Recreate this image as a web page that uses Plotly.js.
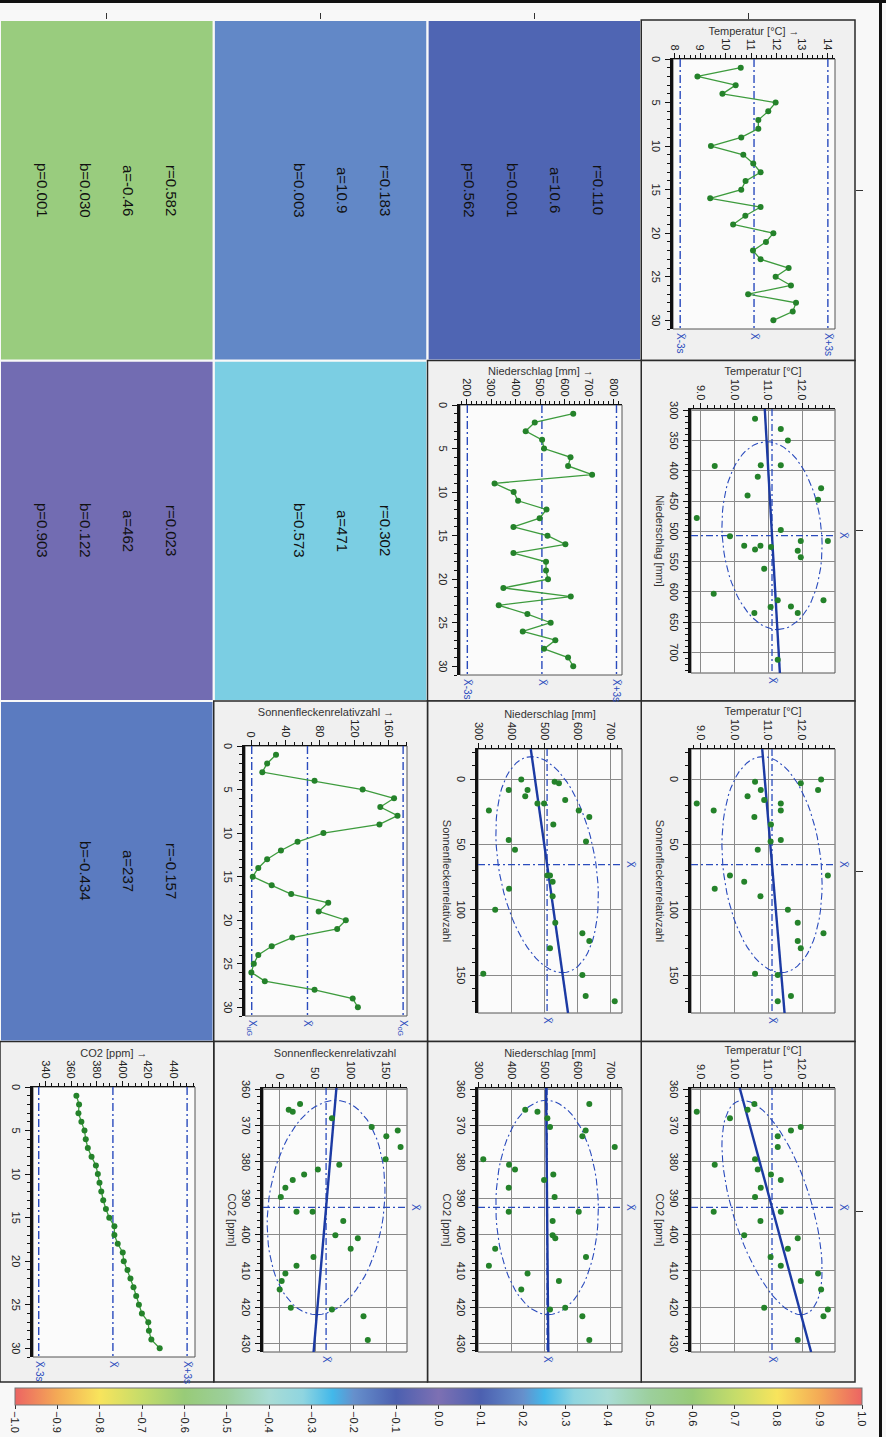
<!DOCTYPE html>
<html>
<head>
<meta charset="utf-8">
<script src="https://cdn.plot.ly/plotly-3.0.1.min.js"></script>
<style>
html, body { margin: 0; padding: 0; width: 886px; height: 1437px; overflow: hidden; background: #f8f8f8; }
#chart { position: absolute; left: 0; top: 0; width: 1437px; height: 886px;
         transform-origin: 0 0; transform: translate(886px, 0) rotate(90deg); }
</style>
</head>
<body>
<div id="chart"></div>
<script>
// yearly series, years 1..30
const years = [1,2,3,4,5,6,7,8,9,10,11,12,13,14,15,16,17,18,19,20,21,22,23,24,25,26,27,28,29,30];
const temp = [10.59, 8.89, 10.39, 9.87, 11.96, 11.67, 11.28, 11.28, 10.61, 9.42, 10.69, 11.08, 11.37, 10.78, 10.61,
              9.39, 11.37, 10.77, 10.29, 11.87, 11.58, 11.07, 11.37, 12.47, 11.96, 12.56, 10.88, 12.76, 12.63, 11.87];
const precip = [635, 478, 441, 508, 516, 624, 614, 712, 314, 392, 410, 526, 498, 391, 530,
                603, 391, 524, 524, 532, 350, 625, 331, 448, 543, 429, 562, 516, 614, 635];
const sun = [29, 18.7, 13.1, 73.7, 129.5, 166, 150, 170, 149, 84, 54, 34.7, 18.7, 8.4, 2,
             24, 46.6, 89.6, 78.5, 110, 100, 47.8, 24, 8.4, 3.2, 0.4, 16, 73.7, 118, 124];
const co2 = [364.1, 366.2, 365.7, 368, 370.4, 371.4, 373, 375.9, 379.3, 380.8, 382.1, 383.5, 385, 387.1, 389.7,
             393.7, 393.7, 396.3, 400.2, 401, 403.9, 406.2, 408.6, 410.7, 412.8, 415.1, 420.1, 420.6, 422.5, 429];

const varTitles = ['Temperatur [°C]', 'Niederschlag [mm]', 'Sonnenfleckenrelativzahl', 'CO2 [ppm]'];

// statistics printed in the lower cells (row, column of the matrix)
const statRow = [1, 2, 3, 2, 3, 3];
const statCol = [0, 0, 0, 1, 1, 2];
const statR = [0.110, 0.183, 0.582, 0.302, 0.023, -0.157];
const statA = [10.6, 10.9, -0.46, 471, 462, 237];
const statB = [0.001, 0.003, 0.030, 0.573, 0.122, -0.434];
const statP = [0.562, null, 0.001, null, 0.903, null];

// lower / upper limit of the sunspot series
const sunLimits = [0.8, 176.5];

// colours of the scale by |r|
const scaleAbs = [0, 0.1, 0.2, 0.25, 0.32, 0.4, 0.5, 0.6, 0.7, 0.8, 0.9, 1.0];
const scaleCol = ['#7d70b3', '#4c60b0', '#6690cc', '#42b8ea', '#8fd5e0', '#a9dcd5',
                  '#9ccf9c', '#98cb78', '#c5dc6a', '#f8e45c', '#f4aa56', '#ec6463'];

// ---- geometry (unrotated figure, pixels) ----
const W = 1437, H = 886;
const gx0 = 20, gx1 = 1382, gy0 = 31, gy1 = 886;
const colW = (gx1 - gx0) / 4, rowH = (gy1 - gy0) / 4;
const tsLeft = [59, 405, 746, 1087], tsW = 270, tsH = 162;
const scLeft = [0, 409, 749, 1088], scW = 264, scH = 144;
const plotTop = [51, 264, 479, 691];

const tsX = [0, 31];
const tsRange = [[7.93, 14.29], [173, 834], [-7, 181], [330.3, 456.5]];
const tsDtick = [1, 100, 40, 20], tsMinor = [0.2, 20, 10, 5];
const scRange = [[8.72, 12.97], [298, 734], [-23, 179], [359.7, 432.3]];
const scDtickX = [1, 50, 50, 10], scMinorX = [0.2, 10, 10, 2];
const scDtickY = [1, 100, 50, 10], scMinorY = [0.2, 20, 10, 2];
const scFormat = ['.1f', '', '', ''];

const px = v => v / W;
const py = v => 1 - v / H;

const mean = a => a.reduce((s, v) => s + v, 0) / a.length;
const cov = (a, b) => {
    const ma = mean(a), mb = mean(b);
    return a.reduce((s, v, i) => s + (v - ma) * (b[i] - mb), 0) / (a.length - 1);
};
const sd = a => Math.sqrt(cov(a, a));

const series = [temp, precip, sun, co2];
const blue = '#2a4bbd';
const font = 'Liberation Sans, Arial, sans-serif';
const tickFont = {family: font, size: 11, color: '#222'};
const titleFont = {family: font, size: 11, color: '#333'};
const labFont = {family: font, size: 10, color: blue};
const xbar = 'X\u0304';

// colour scale symmetric around 0
const colorscale = [];
for (let i = scaleAbs.length - 1; i >= 0; i--) colorscale.push([(1 - scaleAbs[i]) / 2, scaleCol[i]]);
for (let i = 1; i < scaleAbs.length; i++) colorscale.push([0.5 + scaleAbs[i] / 2, scaleCol[i]]);

const data = [], shapes = [], annotations = [];
const layout = {
    width: W, height: H, autosize: false,
    margin: {l: 0, r: 0, t: 0, b: 0, pad: 0},
    paper_bgcolor: '#f8f8f8', plot_bgcolor: 'rgba(0,0,0,0)',
    showlegend: false, font: {family: font}
};

function baseAxis(dom, anchor) {
    return {domain: dom, anchor: anchor, zeroline: false, ticks: 'outside', ticklen: 5, tickwidth: 1,
            tickcolor: '#111', tickfont: tickFont, showline: true, linecolor: '#111', fixedrange: true};
}
function minor(d) { return {tick0: 0, dtick: d, ticks: 'outside', ticklen: 3, tickwidth: 1, tickcolor: '#111'}; }

// cell backgrounds for the plot cells
for (let i = 0; i < 4; i++) {
    for (let j = i; j < 4; j++) {
        shapes.push({type: 'rect', xref: 'paper', yref: 'paper', layer: 'below',
            x0: px(gx0 + j * colW), x1: px(gx0 + (j + 1) * colW),
            y0: py(gy0 + (i + 1) * rowH), y1: py(gy0 + i * rowH),
            fillcolor: '#f0f0f0', line: {color: '#2a2a2a', width: 1.5}});
    }
}

const dashLim = '8px,3px,2px,3px';
const dashMean = '7px,3px,2px,3px';

for (let i = 0; i < 4; i++) {
    for (let j = 0; j < 4; j++) {
        const k = i * 4 + j + 1;
        const s = k === 1 ? '' : String(k);
        const xn = 'x' + s, yn = 'y' + s;
        if (i === j) {
            // time series on the diagonal
            const left = tsLeft[j], top = plotTop[i];
            shapes.push({type: 'rect', xref: 'paper', yref: 'paper', layer: 'below',
                x0: px(left), x1: px(left + tsW), y0: py(top + tsH), y1: py(top),
                fillcolor: '#fbfbfb', line: {color: '#555', width: 1}});
            layout['xaxis' + s] = Object.assign(baseAxis([px(left), px(left + tsW)], yn), {
                range: tsX, tick0: 0, dtick: 5, minor: minor(1), linewidth: 3, showgrid: false});
            layout['yaxis' + s] = Object.assign(baseAxis([py(top + tsH), py(top)], xn), {
                range: tsRange[i], tick0: 0, dtick: tsDtick[i], minor: minor(tsMinor[i]),
                linewidth: 1.3, showgrid: false,
                title: {text: varTitles[i] + ' \u2192', font: titleFont, standoff: 0}});
            const v = series[i];
            const m = mean(v), sdev = sd(v);
            let levels = [m - 3 * sdev, m, m + 3 * sdev];
            let labels = [xbar + '-3s', xbar, xbar + '+3s'];
            if (i === 2) {
                levels = [sunLimits[0], m, sunLimits[1]];
                labels = ['X<sub>uG</sub>', xbar, 'X<sub>oG</sub>'];
            }
            levels.forEach((lv, n) => {
                data.push({type: 'scatter', mode: 'lines', x: tsX, y: [lv, lv], xaxis: xn, yaxis: yn,
                    line: {color: blue, width: 1.4, dash: dashLim}, hoverinfo: 'skip'});
                annotations.push({xref: xn + ' domain', x: 1, xanchor: 'left', xshift: 2,
                    yref: yn, y: lv, yanchor: 'middle', text: labels[n], showarrow: false, font: labFont});
            });
            data.push({type: 'scatter', mode: 'lines+markers', x: years, y: v, xaxis: xn, yaxis: yn,
                line: {color: '#3d9b3d', width: 1.3}, marker: {color: '#24822a', size: 6}, hoverinfo: 'skip'});
        } else if (j > i) {
            // scatter of row variable against column variable
            const left = scLeft[j], top = plotTop[i];
            shapes.push({type: 'rect', xref: 'paper', yref: 'paper', layer: 'below',
                x0: px(left), x1: px(left + scW), y0: py(top + scH), y1: py(top),
                fillcolor: '#fbfbfb', line: {color: '#555', width: 1}});
            layout['xaxis' + s] = Object.assign(baseAxis([px(left), px(left + scW)], yn), {
                range: scRange[j], tick0: 0, dtick: scDtickX[j], minor: minor(scMinorX[j]),
                tickformat: scFormat[j], linewidth: 3, showgrid: true, gridcolor: '#8a8a8a', gridwidth: 1,
                title: {text: varTitles[j], font: titleFont, standoff: 6}});
            layout['yaxis' + s] = Object.assign(baseAxis([py(top + scH), py(top)], xn), {
                range: scRange[i], tick0: 0, dtick: scDtickY[i], minor: minor(scMinorY[i]),
                tickformat: scFormat[i], linewidth: 1.5, showgrid: true, gridcolor: '#8a8a8a', gridwidth: 1,
                title: {text: varTitles[i], font: titleFont, standoff: 1}});
            const xv = series[j], yv = series[i];
            const mx = mean(xv), my = mean(yv);
            const sx = sd(xv), sy = sd(yv);
            const r = cov(xv, yv) / (sx * sy);
            // ellipse from the covariance of the points
            const kEl = 1.53, ex = [], ey = [];
            for (let t = 0; t <= 72; t++) {
                const a = t / 72 * 2 * Math.PI;
                ex.push(mx + kEl * sx * Math.cos(a));
                ey.push(my + kEl * sy * (r * Math.cos(a) + Math.sqrt(1 - r * r) * Math.sin(a)));
            }
            data.push({type: 'scatter', mode: 'lines', x: ex, y: ey, xaxis: xn, yaxis: yn,
                line: {color: blue, width: 1.1, dash: dashMean}, hoverinfo: 'skip'});
            const xr = scRange[j], yr = scRange[i];
            data.push({type: 'scatter', mode: 'lines', x: xr, y: [my, my], xaxis: xn, yaxis: yn,
                line: {color: blue, width: 1.3, dash: dashMean}, hoverinfo: 'skip'});
            data.push({type: 'scatter', mode: 'lines', x: [mx, mx], y: yr, xaxis: xn, yaxis: yn,
                line: {color: blue, width: 1.3, dash: dashMean}, hoverinfo: 'skip'});
            annotations.push({xref: xn + ' domain', x: 1, xanchor: 'left', xshift: 2, yref: yn, y: my,
                yanchor: 'middle', text: xbar, showarrow: false, font: labFont});
            annotations.push({xref: xn, x: mx, xanchor: 'center', yref: yn + ' domain', y: 1, yanchor: 'bottom',
                text: xbar, showarrow: false, font: labFont});
            // least squares line
            const b = cov(xv, yv) / (sx * sx), a0 = my - b * mx;
            data.push({type: 'scatter', mode: 'lines', x: xr, y: xr.map(x => a0 + b * x), xaxis: xn, yaxis: yn,
                line: {color: '#1c3aa3', width: 2.4}, hoverinfo: 'skip'});
            data.push({type: 'scatter', mode: 'markers', x: xv, y: yv, xaxis: xn, yaxis: yn,
                marker: {color: '#24822a', size: 6}, hoverinfo: 'skip'});
        }
    }
}

// coloured correlation cells
statR.forEach((r, p) => {
    const i = statRow[p], j = statCol[p];
    const k = i * 4 + j + 1, s = String(k);
    const x0 = gx0 + j * colW, y0 = gy0 + i * rowH;
    layout['xaxis' + s] = {domain: [px(x0 + 1), px(x0 + colW - 1)], anchor: 'y' + s, range: [-0.5, 0.5],
                           visible: false, fixedrange: true};
    layout['yaxis' + s] = {domain: [py(y0 + rowH - 1), py(y0 + 1)], anchor: 'x' + s, range: [-0.5, 0.5],
                           visible: false, fixedrange: true};
    data.push({type: 'heatmap', z: [[r]], x: [0], y: [0], xaxis: 'x' + s, yaxis: 'y' + s,
        zmin: -1, zmax: 1, colorscale: colorscale, showscale: p === 0, hoverinfo: 'skip',
        colorbar: {x: px(1388), xanchor: 'left', xpad: 0, ypad: 0, y: py(447.5), yanchor: 'middle',
                   len: 847, lenmode: 'pixels', thickness: 17, thicknessmode: 'pixels',
                   tickmode: 'linear', tick0: -1, dtick: 0.1, tickformat: '.1f',
                   ticks: 'outside', ticklen: 4, tickcolor: '#333',
                   outlinewidth: 1, outlinecolor: '#777',
                   tickfont: {family: font, size: 11, color: '#222'}}});
    const lines = ['r=' + r.toFixed(3), 'a=' + statA[p], 'b=' + statB[p].toFixed(3),
                   statP[p] === null ? '' : 'p=' + statP[p].toFixed(3)];
    const cy = y0 + rowH / 2;
    [-64.5, -21.5, 21.5, 64.5].forEach((off, n) => {
        if (!lines[n]) return;
        annotations.push({xref: 'paper', yref: 'paper', x: px(x0 + colW / 2), y: py(cy + off),
            xanchor: 'center', yanchor: 'middle', text: lines[n], showarrow: false,
            font: {family: 'Liberation Sans Narrow, Liberation Sans, Arial, sans-serif', size: 15, color: '#111'}});
    });
});

// outer frame with ticks at the cell centres
layout.xaxis17 = {domain: [px(gx0), px(gx1)], anchor: 'y17', side: 'top', range: [0, 4],
    tickmode: 'array', tickvals: [0.5, 1.5, 2.5, 3.5], ticks: 'outside', ticklen: 7, tickcolor: '#333',
    showticklabels: false, showgrid: false, zeroline: false, showline: false, fixedrange: true};
layout.yaxis17 = {domain: [0, py(gy0)], anchor: 'x17', side: 'left', range: [0, 4],
    tickmode: 'array', tickvals: [0.5, 1.5, 2.5, 3.5], ticks: 'outside', ticklen: 6, tickcolor: '#333',
    showticklabels: false, showgrid: false, zeroline: false, showline: false, fixedrange: true};
data.push({type: 'scatter', mode: 'markers', x: [], y: [], xaxis: 'x17', yaxis: 'y17', hoverinfo: 'skip'});

shapes.push({type: 'line', xref: 'paper', yref: 'paper', x0: px(1.5), x1: px(1.5), y0: 0, y1: 1,
             line: {color: '#111', width: 3}});
shapes.push({type: 'line', xref: 'paper', yref: 'paper', x0: 0, x1: 1, y0: py(5.5), y1: py(5.5),
             line: {color: '#111', width: 3}});

layout.shapes = shapes;
layout.annotations = annotations;

Plotly.newPlot('chart', data, layout, {displayModeBar: false, staticPlot: true});
</script>
</body>
</html>
